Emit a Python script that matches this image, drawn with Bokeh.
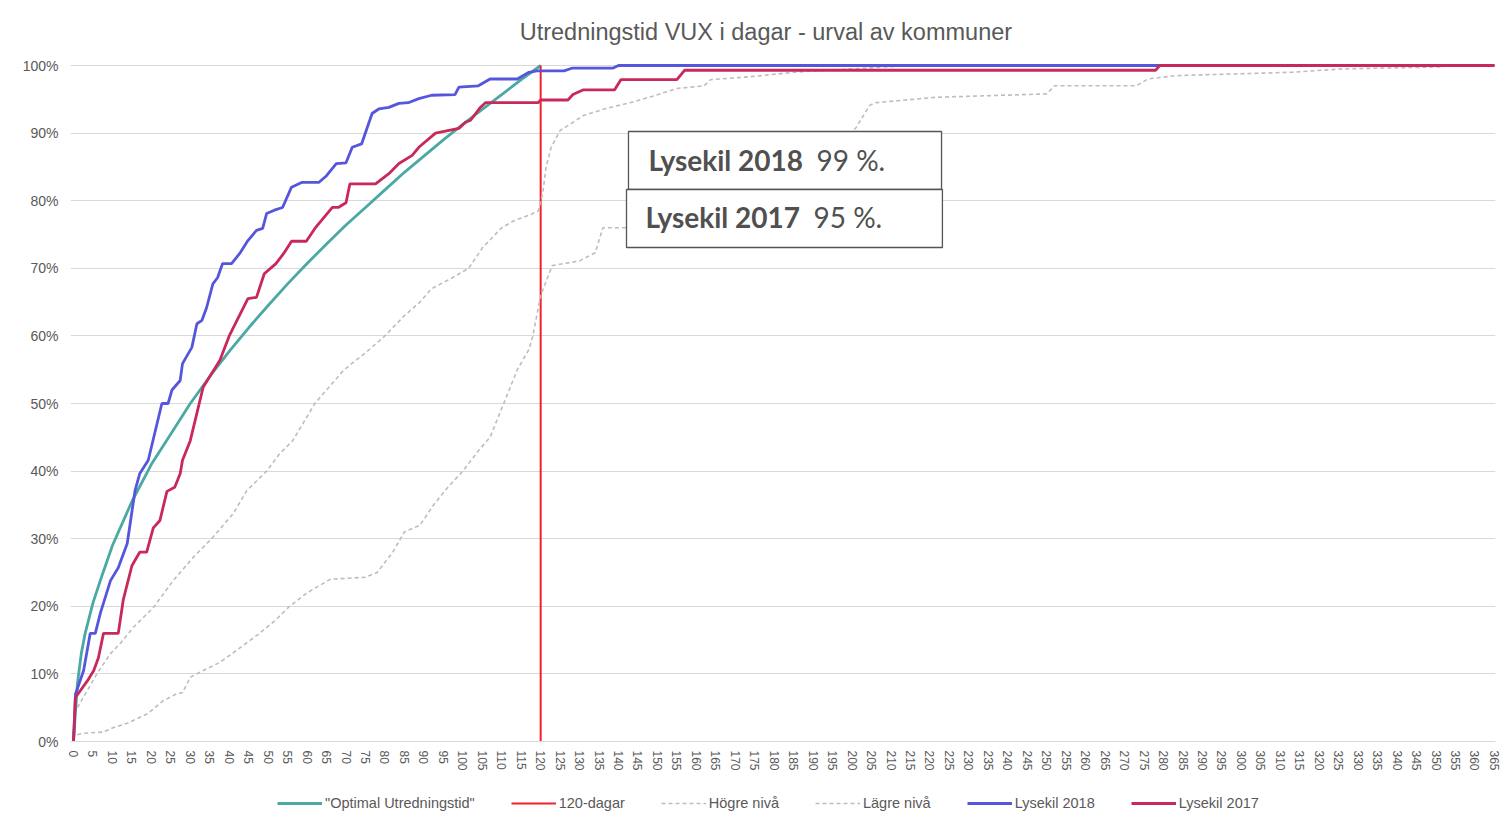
from bokeh.plotting import figure
from bokeh.models import Range1d, Legend, LegendItem, FixedTicker
from bokeh.layouts import column
from bokeh.core.properties import value
from bokeh.embed import file_html
from bokeh.resources import INLINE

# ---------------- data ----------------
title_text = "Utredningstid VUX i dagar - urval av kommuner"

x_ticks = list(range(0, 366, 5))
y_ticks = [0, 10, 20, 30, 40, 50, 60, 70, 80, 90, 100]
y_tick_labels = ["0%", "10%", "20%", "30%", "40%", "50%", "60%", "70%", "80%", "90%", "100%"]

optimal_days = [0, 1, 2, 3, 5, 7, 10, 15, 20, 25, 30, 35, 40, 45, 50, 55, 60, 65, 70,
                75, 80, 85, 90, 95, 100, 105, 110, 115, 120]
optimal_pct = [0, 8.5, 13, 16, 20.5, 24, 29, 35.5, 41, 45.5, 50, 54, 57.7, 61.2, 64.5, 67.7,
               70.7, 73.6, 76.4, 79, 81.6, 84.2, 86.6, 89, 91.3, 93.5, 95.7, 97.9, 100]

limit_days = [120, 120]
limit_pct = [0, 100]

high_days = [1, 3, 6, 9.5, 12, 15.4, 20.5, 25.6, 30.7, 35.8, 41, 44.5, 49.6, 53, 56.3, 62,
             69.5, 75, 80, 85, 89, 92, 97, 101.5, 105, 110, 113, 117.6, 119.4, 120.5, 121.4,
             122.7, 125, 127, 131, 136.5, 143, 149, 155, 162, 163.6, 175, 185, 200, 215, 365]
high_pct = [5, 7, 10, 13, 14.5, 16.9, 19.8, 23.8, 27.2, 30.2, 33.7, 37.1, 40, 42.6, 44.5, 50,
            55, 57.5, 60, 63, 65, 67, 68.5, 70, 73, 76, 77, 78, 78.5, 81, 85,
            87.9, 90.4, 91.1, 92.6, 93.6, 94.5, 95.5, 96.6, 97, 97.9, 98.4, 99, 99.5, 100, 100]

low_days = [1, 2.3, 7.7, 10, 13.8, 19, 23, 26.6, 28, 30, 33.3, 37.6, 41.9, 47.8, 52, 55.5,
            60, 63, 66, 75, 78, 80, 82, 85, 89, 92.5, 96, 100, 104, 107, 110.5, 114, 117,
            118, 119, 120, 121, 123, 130, 134, 136, 150, 165, 180, 192, 198, 201, 204.5,
            206, 221.6, 250, 252, 273, 276, 283, 313, 326, 352]
low_pct = [1, 1.2, 1.4, 2, 2.7, 4.1, 6, 7.1, 7.2, 9.5, 10.5, 11.7, 13.5, 16, 18, 20,
           22, 23, 24, 24.3, 25, 26.5, 28, 31, 32, 35, 37.5, 40, 43, 45, 50, 55, 58,
           60, 63, 66, 67.5, 70.4, 71.1, 72.3, 76, 76, 78, 82, 86, 89, 90.8, 94.1,
           94.5, 95.3, 95.8, 97, 97, 98, 98.5, 99, 99.5, 99.8]

ly2018_days = [0, 0.5, 2.6, 4.3, 5.6, 6.9, 9.5, 11.5, 13.8, 15.8, 17, 19.2, 22.7, 24.3, 25.3,
               27.4, 28, 30.4, 31.7, 33, 34.2, 35.8, 37, 38.3, 40.6, 42.7, 44.8, 47, 48.6,
               49.6, 51.6, 53.7, 56, 58.6, 63, 65, 67.5, 70, 71.6, 74, 76.7, 78.5, 81, 83.6,
               86, 88.7, 92, 98, 99, 104, 107, 114, 117, 119, 126, 128, 138.5, 140, 365]
ly2018_pct = [0, 7, 10.5, 16, 16, 19, 23.8, 25.7, 29.3, 37.1, 39.6, 41.6, 50, 50, 52,
              53.4, 55.9, 58.3, 61.8, 62.3, 64.2, 67.7, 68.6, 70.7, 70.7, 72.2, 74.1, 75.6, 75.9,
              78.1, 78.6, 79, 82, 82.7, 82.7, 83.7, 85.5, 85.6, 87.9, 88.4, 92.9, 93.6, 93.8, 94.4,
              94.5, 95.1, 95.6, 95.7, 96.8, 97, 98, 98, 99, 99.2, 99.2, 99.6, 99.6, 100, 100]

ly2017_days = [0, 0.5, 3.6, 5.2, 6.4, 7.7, 11.5, 12.8, 15, 17, 18.8, 20.5, 22.2, 24, 26, 27.4,
               28, 30, 33.3, 37.6, 40, 44.8, 47, 49, 52, 54, 56, 59.8, 62, 66.5, 68, 70, 71,
               77.6, 81, 83.6, 87, 88.7, 93, 99, 100.7, 102, 104.5, 105.8, 119.4, 120, 127,
               128.3, 131, 139, 140.6, 155, 157, 278, 279, 365]
ly2017_pct = [0, 6.5, 9, 10.5, 12.4, 16, 16, 21, 26, 28, 28, 31.6, 32.7, 37, 37.6, 39.6,
              41.6, 44.5, 52.4, 56.4, 60, 65.5, 65.7, 69.2, 70.7, 72.2, 74, 74, 75.9, 79, 79, 79.7, 82.5,
              82.5, 84, 85.5, 86.7, 87.9, 90, 90.7, 91.6, 91.9, 93.8, 94.5, 94.5, 94.9, 94.9,
              95.7, 96.4, 96.4, 97.9, 97.9, 99.3, 99.3, 100, 100]

labels = ['"Optimal Utredningstid"', "120-dagar", "Högre nivå", "Lägre nivå",
          "Lysekil 2018", "Lysekil 2017"]
box_bold = ["Lysekil 2018", "Lysekil 2017"]
box_rest = ["99 %.", "95 %."]

# ---------------- styling ----------------
C_OPT = "#4aa9a4"
C_120 = "#f0202c"
C_GRAY = "#bdbdbd"
C_2018 = "#5656dc"
C_2017 = "#c8285a"
TXT = "#595959"
FONT = "Liberation Sans"

# title strip
p0 = figure(width=1500, height=50, output_backend="svg", toolbar_location=None,
            x_range=Range1d(0, 1), y_range=Range1d(0, 50),
            x_axis_location=None, y_axis_location=None, min_border=0)
p0.grid.visible = False
p0.outline_line_color = None
p0.border_fill_color = "white"
p0.text(x=[0.488], y=[19], text=[title_text], text_font=value(FONT), text_font_size="23.5px",
        text_color=TXT, text_align="center", text_baseline="middle")

# main chart
p = figure(width=1500, height=736, output_backend="svg", toolbar_location=None,
           x_range=Range1d(-0.77, 365.27), y_range=Range1d(0, 100.74),
           min_border_left=70, min_border_right=5, min_border_top=10, min_border_bottom=45)
p.outline_line_color = None
p.background_fill_color = "white"
p.border_fill_color = "white"

p.xgrid.grid_line_color = None
p.ygrid.grid_line_color = "#d9d9d9"
p.ygrid.grid_line_width = 1

p.xaxis.ticker = FixedTicker(ticks=x_ticks)
p.xaxis.major_label_orientation = "vertical"
p.xaxis.axis_line_color = "#d9d9d9"
p.xaxis.major_tick_line_color = None
p.xaxis.minor_tick_line_color = None
p.xaxis.major_label_text_font = FONT
p.xaxis.major_label_text_font_size = "12px"
p.xaxis.major_label_text_color = TXT
p.xaxis.major_label_standoff = 3

p.yaxis.ticker = FixedTicker(ticks=y_ticks)
p.yaxis.major_label_overrides = {t: l for t, l in zip(y_ticks, y_tick_labels)}
p.yaxis.axis_line_color = None
p.yaxis.major_tick_line_color = None
p.yaxis.minor_tick_line_color = None
p.yaxis.major_label_text_font = FONT
p.yaxis.major_label_text_font_size = "14px"
p.yaxis.major_label_text_color = TXT
p.yaxis.major_label_standoff = 6

styles = [dict(line_color=C_OPT, line_width=2.8),
          dict(line_color=C_120, line_width=2),
          dict(line_color=C_GRAY, line_width=1.6, line_dash="4 3"),
          dict(line_color=C_GRAY, line_width=1.6, line_dash="4 3"),
          dict(line_color=C_2018, line_width=2.8),
          dict(line_color=C_2017, line_width=2.8)]
series = [(optimal_days, optimal_pct), (limit_days, limit_pct), (high_days, high_pct),
          (low_days, low_pct), (ly2018_days, ly2018_pct), (ly2017_days, ly2017_pct)]
for (xs, ys), st in zip(series, styles):
    p.line(xs, ys, **st)

# annotation boxes
p.quad(left=[142.56, 142.05], right=[222.97, 223.2], top=[90.24, 81.66], bottom=[81.66, 73.08],
       fill_color="white", line_color="#555555", line_width=1.3)
p.text(x=[147.70, 146.93], y=[85.95, 77.6], text=box_bold, text_font=value("Lato"),
       text_font_size="28px", text_font_style="bold", text_color="#505050",
       text_baseline="alphabetic", text_align="left")
p.text(x=[190.85, 190.08], y=[85.95, 77.6], text=box_rest, text_font=value("Lato"),
       text_font_size="28px", text_font_style="normal", text_color="#505050",
       text_baseline="alphabetic", text_align="left")

# legend strip
p2 = figure(width=1500, height=26, output_backend="svg", toolbar_location=None,
            x_range=Range1d(0, 1), y_range=Range1d(0, 1),
            x_axis_location=None, y_axis_location=None, min_border=0)
p2.grid.visible = False
p2.outline_line_color = None
p2.border_fill_color = "white"
leg_renderers = [p2.line([-5, -4], [-5, -4], **st) for st in styles]
legend = Legend(items=[LegendItem(label=l, renderers=[r]) for l, r in zip(labels, leg_renderers)],
                orientation="horizontal", location=(207, 1))
legend.label_text_font = FONT
legend.label_text_font_size = "14.5px"
legend.label_text_color = TXT
legend.glyph_width = 45
legend.glyph_height = 12
legend.spacing = 36
legend.label_standoff = 3
legend.padding = 3
legend.margin = 0
legend.border_line_color = None
legend.background_fill_alpha = 0
p2.add_layout(legend, "center")

open("out.html", "w").write(file_html(column(p0, p, p2, spacing=0), INLINE))
